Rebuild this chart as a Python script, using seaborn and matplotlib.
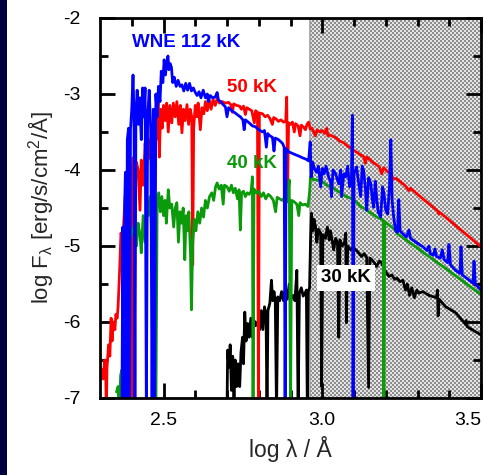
import numpy as np
import pandas as pd
import matplotlib
matplotlib.use("Agg")
import matplotlib.pyplot as plt
from matplotlib.patches import Rectangle
import seaborn as sns

# ---- model spectra: log wavelength [A] vs log flux [erg/s/cm^2/A] ----
red_x = [2.300, 2.305, 2.310, 2.315, 2.318, 2.320, 2.322, 2.327, 2.331, 2.335, 2.338, 2.342,
         2.347, 2.350, 2.354, 2.357, 2.362, 2.366, 2.370, 2.374, 2.378, 2.382, 2.386, 2.390,
         2.394, 2.398, 2.401, 2.404, 2.410, 2.415, 2.420, 2.426, 2.430, 2.436, 2.442, 2.448,
         2.452, 2.458, 2.462, 2.467, 2.472, 2.477, 2.483, 2.487, 2.491, 2.496, 2.500, 2.505,
         2.510, 2.515, 2.520, 2.526, 2.531, 2.537, 2.542, 2.548, 2.553, 2.558, 2.563, 2.568,
         2.574, 2.579, 2.584, 2.589, 2.592, 2.595, 2.600, 2.605, 2.609, 2.616, 2.621, 2.627,
         2.632, 2.638, 2.644, 2.650, 2.656, 2.663, 2.669, 2.676, 2.685, 2.695, 2.705, 2.712,
         2.717, 2.721, 2.730, 2.740, 2.745, 2.752, 2.758, 2.762, 2.770, 2.778, 2.786, 2.790,
         2.796, 2.799, 2.802, 2.812, 2.820, 2.828, 2.835, 2.843, 2.847, 2.855, 2.862, 2.870,
         2.878, 2.885, 2.888, 2.891, 2.894, 2.900, 2.906, 2.912, 2.916, 2.924, 2.930, 2.934,
         2.942, 2.947, 2.952, 2.957, 2.962, 2.968, 2.973, 2.978, 2.984, 2.992, 3.000, 3.008,
         3.014, 3.018, 3.026, 3.035, 3.045, 3.055, 3.067, 3.078, 3.090, 3.099, 3.110, 3.120,
         3.130, 3.136, 3.140, 3.150, 3.160, 3.171, 3.180, 3.187, 3.194, 3.205, 3.216, 3.225,
         3.232, 3.260, 3.273, 3.278, 3.320, 3.364, 3.367, 3.371, 3.420, 3.460, 3.500]
red_y = [-6.72, -6.62, -6.75, -6.50, -6.68, -7.20, -6.60, -6.30, -6.45, -5.95, -6.25, -6.00,
         -6.10, -5.90, -5.95, -5.80, -5.30, -4.83, -4.90, -4.75, -4.45, -4.20, -4.00, -4.30,
         -3.90, -4.20, -7.20, -3.84, -4.10, -3.90, -4.00, -4.53, -3.87, -4.20, -3.65, -3.90,
         -3.60, -3.85, -3.40, -3.70, -3.30, -3.60, -3.10, -3.83, -3.20, -3.45, -3.15, -3.35,
         -3.12, -3.50, -3.15, -3.38, -3.12, -3.30, -3.10, -3.40, -3.15, -3.51, -3.20, -3.35,
         -3.14, -3.40, -3.20, -3.30, -5.25, -3.45, -3.15, -3.30, -3.12, -3.47, -3.18, -3.26,
         -3.10, -3.22, -3.08, -3.20, -3.07, -3.15, -3.06, -3.12, -3.10, -3.12, -3.11, -3.14,
         -3.24, -3.13, -3.15, -3.16, -3.20, -3.16, -3.27, -3.18, -3.20, -3.22, -3.38, -3.22,
         -3.24, -7.20, -3.25, -3.26, -3.30, -3.28, -3.32, -3.40, -3.31, -3.33, -3.36, -3.34,
         -3.37, -3.36, -3.04, -4.22, -3.38, -3.40, -3.37, -3.50, -3.39, -3.42, -3.55, -3.41,
         -3.44, -3.47, -3.40, -3.37, -3.46, -3.45, -3.50, -3.55, -3.47, -3.50, -3.48, -3.52,
         -3.45, -3.55, -3.54, -3.56, -3.58, -3.62, -3.64, -3.68, -3.71, -3.74, -3.77, -3.80,
         -3.82, -3.91, -3.83, -3.86, -3.90, -3.93, -3.96, -4.05, -3.97, -4.02, -4.05, -4.12,
         -4.11, -4.20, -4.27, -4.24, -4.39, -4.54, -4.58, -4.56, -4.73, -4.87, -5.01]

blue_x = [2.369, 2.372, 2.375, 2.378, 2.380, 2.383, 2.386, 2.390, 2.393, 2.396, 2.400, 2.404,
          2.407, 2.410, 2.413, 2.417, 2.421, 2.425, 2.430, 2.434, 2.438, 2.442, 2.446, 2.450,
          2.455, 2.460, 2.464, 2.468, 2.472, 2.476, 2.480, 2.484, 2.489, 2.493, 2.498, 2.502,
          2.506, 2.510, 2.514, 2.517, 2.521, 2.525, 2.529, 2.534, 2.540, 2.546, 2.552, 2.558,
          2.564, 2.570, 2.576, 2.582, 2.588, 2.594, 2.600, 2.606, 2.612, 2.618, 2.625, 2.632,
          2.638, 2.641, 2.647, 2.655, 2.663, 2.669, 2.673, 2.680, 2.688, 2.695, 2.700, 2.705,
          2.715, 2.726, 2.735, 2.742, 2.750, 2.754, 2.758, 2.770, 2.780, 2.789, 2.800, 2.812,
          2.818, 2.824, 2.828, 2.835, 2.843, 2.848, 2.852, 2.862, 2.870, 2.875, 2.880, 2.883,
          2.886, 2.894, 2.905, 2.916, 2.928, 2.938, 2.950, 2.957, 2.962, 2.965, 2.970, 2.975,
          2.982, 2.988, 2.995, 3.000, 3.006, 3.012, 3.020, 3.026, 3.029, 3.034, 3.042, 3.052,
          3.058, 3.061, 3.068, 3.074, 3.080, 3.086, 3.092, 3.095, 3.097, 3.100, 3.108, 3.114,
          3.121, 3.126, 3.130, 3.136, 3.140, 3.146, 3.153, 3.158, 3.162, 3.167, 3.171, 3.176,
          3.184, 3.190, 3.194, 3.200, 3.206, 3.212, 3.216, 3.220, 3.225, 3.231, 3.237, 3.241,
          3.245, 3.254, 3.265, 3.273, 3.278, 3.295, 3.317, 3.330, 3.336, 3.340, 3.350, 3.355,
          3.360, 3.372, 3.378, 3.384, 3.395, 3.399, 3.404, 3.420, 3.434, 3.437, 3.441, 3.460,
          3.475, 3.478, 3.482, 3.500]
blue_y = [-7.20, -4.75, -7.20, -4.40, -4.03, -7.20, -3.60, -3.45, -7.20, -3.47, -3.20, -2.75,
          -3.25, -7.20, -3.30, -2.95, -3.40, -3.05, -3.60, -2.92, -3.30, -2.92, -7.20, -3.30,
          -2.95, -3.50, -7.20, -3.20, -7.20, -3.00, -3.30, -2.90, -3.10, -2.70, -2.85, -2.55,
          -2.75, -2.60, -2.50, -2.68, -2.60, -2.65, -2.85, -2.78, -2.90, -2.82, -2.90, -2.88,
          -2.96, -2.86, -2.95, -2.86, -2.96, -2.92, -2.98, -3.02, -2.97, -3.05, -2.95, -3.05,
          -3.00, -3.10, -3.02, -3.05, -3.04, -2.98, -3.08, -3.10, -3.14, -3.17, -3.30, -3.18,
          -3.22, -3.25, -3.28, -3.30, -3.34, -3.47, -3.34, -3.38, -3.42, -3.43, -3.47, -3.50,
          -3.48, -3.70, -3.52, -3.55, -3.57, -3.75, -3.58, -3.60, -3.63, -3.65, -3.70, -7.20,
          -3.72, -3.76, -3.78, -3.80, -3.82, -3.84, -3.86, -3.88, -3.63, -4.09, -3.90, -3.98,
          -4.03, -3.95, -4.22, -3.98, -4.05, -3.95, -4.09, -4.15, -4.35, -4.00, -4.05, -4.18,
          -4.00, -4.35, -4.05, -4.09, -3.95, -4.22, -4.10, -3.28, -7.20, -4.05, -3.96, -4.15,
          -4.35, -3.95, -4.00, -4.25, -4.53, -4.10, -4.18, -4.40, -4.49, -4.15, -4.35, -4.55,
          -4.62, -4.22, -4.30, -4.53, -4.58, -4.20, -3.60, -4.40, -4.62, -4.80, -4.82, -4.39,
          -4.80, -4.84, -4.88, -4.79, -4.90, -4.95, -5.01, -5.06, -5.00, -5.10, -5.12, -5.04,
          -5.14, -5.16, -5.05, -5.18, -5.22, -4.98, -5.25, -5.32, -5.36, -5.01, -5.38, -5.44,
          -5.49, -5.20, -5.50, -5.58]

green_x = [2.352, 2.357, 2.360, 2.365, 2.369, 2.372, 2.376, 2.385, 2.395, 2.405, 2.415, 2.420,
           2.426, 2.430, 2.436, 2.442, 2.448, 2.452, 2.458, 2.462, 2.466, 2.470, 2.476, 2.480,
           2.485, 2.490, 2.495, 2.500, 2.505, 2.509, 2.515, 2.520, 2.526, 2.532, 2.537, 2.542,
           2.547, 2.552, 2.557, 2.562, 2.567, 2.571, 2.576, 2.580, 2.585, 2.588, 2.592, 2.597,
           2.602, 2.608, 2.614, 2.620, 2.626, 2.632, 2.638, 2.645, 2.652, 2.658, 2.664, 2.669,
           2.675, 2.682, 2.688, 2.692, 2.700, 2.707, 2.714, 2.720, 2.726, 2.733, 2.738, 2.742,
           2.746, 2.752, 2.758, 2.764, 2.770, 2.776, 2.780, 2.782, 2.785, 2.792, 2.800, 2.808,
           2.815, 2.822, 2.830, 2.838, 2.846, 2.853, 2.858, 2.866, 2.874, 2.882, 2.890, 2.896,
           2.900, 2.904, 2.912, 2.920, 2.926, 2.930, 2.938, 2.947, 2.955, 2.960, 2.963, 2.970,
           2.980, 2.995, 3.005, 3.014, 3.025, 3.036, 3.046, 3.058, 3.067, 3.077, 3.088, 3.099,
           3.110, 3.121, 3.130, 3.140, 3.150, 3.162, 3.172, 3.184, 3.192, 3.194, 3.197, 3.203,
           3.215, 3.225, 3.237, 3.300, 3.400, 3.500]
green_y = [-6.92, -6.85, -7.20, -6.70, -6.63, -7.20, -6.00, -5.10, -4.90, -4.75, -5.00, -4.70,
           -4.85, -5.09, -4.60, -4.95, -4.40, -4.60, -4.35, -4.75, -4.45, -5.00, -7.20, -4.40,
           -4.30, -4.55, -4.35, -4.60, -4.40, -4.70, -4.26, -4.50, -4.45, -4.75, -4.50, -4.43,
           -4.95, -4.55, -4.70, -4.50, -5.18, -4.60, -4.80, -4.55, -5.10, -5.84, -4.95, -4.65,
           -4.80, -4.55, -4.70, -4.50, -4.62, -4.40, -4.50, -4.35, -4.30, -4.40, -4.22, -4.17,
           -4.25, -4.20, -4.45, -4.20, -4.22, -4.28, -4.20, -4.30, -4.24, -4.38, -4.26, -4.79,
           -4.30, -4.28, -4.35, -4.30, -4.32, -4.28, -4.09, -7.20, -4.25, -4.30, -4.28, -4.35,
           -4.30, -4.38, -4.32, -4.35, -4.40, -4.55, -4.36, -4.38, -4.40, -4.36, -4.42, -4.13,
           -7.20, -4.40, -4.42, -4.45, -4.60, -4.43, -4.46, -4.45, -4.48, -4.30, -4.09, -4.12,
           -4.13, -4.14, -4.17, -4.20, -4.22, -4.24, -4.27, -4.30, -4.33, -4.35, -4.37, -4.39,
           -4.43, -4.48, -4.50, -4.53, -4.56, -4.59, -4.62, -4.64, -4.66, -7.20, -4.68, -4.70,
           -4.74, -4.77, -4.84, -5.03, -5.33, -5.64]

black_x = [2.700, 2.702, 2.706, 2.710, 2.714, 2.718, 2.722, 2.726, 2.730, 2.735, 2.740, 2.744,
           2.749, 2.752, 2.756, 2.760, 2.765, 2.770, 2.775, 2.780, 2.785, 2.790, 2.796, 2.803,
           2.808, 2.813, 2.818, 2.823, 2.826, 2.829, 2.835, 2.840, 2.844, 2.848, 2.852, 2.856,
           2.860, 2.866, 2.872, 2.878, 2.884, 2.890, 2.896, 2.902, 2.908, 2.914, 2.920, 2.924,
           2.928, 2.934, 2.940, 2.946, 2.950, 2.953, 2.956, 2.960, 2.963, 2.966, 2.970, 2.974,
           2.979, 2.983, 2.988, 2.995, 2.998, 3.002, 3.010, 3.016, 3.022, 3.026, 3.032, 3.036,
           3.042, 3.048, 3.052, 3.056, 3.063, 3.070, 3.074, 3.076, 3.080, 3.089, 3.097, 3.108,
           3.116, 3.124, 3.132, 3.140, 3.146, 3.150, 3.156, 3.164, 3.171, 3.180, 3.187, 3.195,
           3.203, 3.210, 3.219, 3.228, 3.235, 3.245, 3.254, 3.262, 3.268, 3.275, 3.282, 3.290,
           3.298, 3.304, 3.317, 3.336, 3.360, 3.363, 3.365, 3.368, 3.389, 3.421, 3.451, 3.453,
           3.456, 3.500]
black_y = [-7.20, -6.37, -6.60, -6.30, -6.90, -6.45, -7.05, -6.50, -6.85, -6.55, -6.85, -6.40,
           -6.20, -6.55, -5.87, -6.25, -6.02, -6.20, -5.95, -6.20, -5.98, -6.05, -6.00, -6.10,
           -5.85, -6.10, -5.80, -5.90, -7.20, -5.85, -5.75, -5.45, -5.72, -5.60, -5.72, -7.20,
           -5.67, -5.72, -5.60, -5.72, -5.55, -5.70, -5.50, -5.70, -5.65, -5.72, -5.32, -7.20,
           -5.62, -5.55, -5.66, -5.62, -5.58, -7.20, -5.60, -5.55, -4.95, -4.57, -4.80, -4.65,
           -4.75, -4.95, -4.78, -4.83, -6.85, -4.85, -4.90, -4.75, -4.92, -4.80, -4.95, -5.05,
           -4.90, -4.95, -6.20, -4.92, -5.00, -4.95, -4.83, -6.01, -5.00, -5.05, -5.02, -5.06,
           -5.10, -5.14, -5.10, -5.15, -6.86, -5.16, -5.18, -5.22, -5.27, -5.20, -5.22, -5.30,
           -5.36, -5.40, -5.38, -5.44, -5.42, -5.47, -5.45, -5.58, -5.50, -5.65, -5.55, -5.68,
           -5.58, -5.62, -5.60, -5.65, -5.68, -5.58, -5.92, -5.70, -5.80, -5.88, -6.03, -5.98,
           -6.06, -6.17]

# curve labels
series_names = ["WNE 112 kK", "50 kK", "40 kK", "30 kK"]

# axis ticks
xticks_major = [2.5, 3.0, 3.5]
xtick_labels = ["2.5", "3.0", "3.5"]
yticks_major = [-7, -6, -5, -4, -3, -2]
ytick_labels = ["-7", "-6", "-5", "-4", "-3", "-2"]

# shaded wavelength range
shade_start = 2.96

RED, BLUE, GREEN, BLACK = "#ff0000", "#0000ff", "#0a9a0a", "#000000"

sns.set_theme(style="ticks")
plt.rcParams["font.family"] = ["Liberation Sans", "DejaVu Sans"]
plt.rcParams["mathtext.fontset"] = "custom"
plt.rcParams["mathtext.rm"] = "Liberation Sans"
plt.rcParams["mathtext.it"] = "Liberation Sans:italic"

fig = plt.figure(figsize=(4.84, 4.75), dpi=100)
fig.patch.set_facecolor("white")
fig.patches.append(Rectangle((0, 0), 7 / 484, 1, transform=fig.transFigure,
                             facecolor="#00003f", edgecolor="none", zorder=-10))
ax = fig.add_axes([100 / 484, 1 - 398 / 475, 381 / 484, 380 / 475])

xmin, xmax, ymin, ymax = 2.3, 3.5, -7.0, -2.0

# checkered band over the long-wavelength range
ncx, ncy = 86, 190
cells = (np.add.outer(np.arange(ncy), np.arange(ncx)) % 2).astype(float)
ax.imshow(cells, extent=[shade_start, xmax, ymin, ymax], aspect="auto",
          cmap=matplotlib.colors.ListedColormap(["#8e8e8e", "#e4e4e4"]),
          interpolation="nearest", zorder=0)
ax.axvline(shade_start, color="#a0a0a0", lw=1.2, zorder=1)

lw = 2.0
for xs, ys, col, z in [(black_x, black_y, BLACK, 2), (red_x, red_y, RED, 3),
                       (green_x, green_y, GREEN, 4), (blue_x, blue_y, BLUE, 5)]:
    df = pd.DataFrame({"logw": xs, "logf": ys})
    sns.lineplot(data=df, x="logw", y="logf", sort=False, estimator=None,
                 color=col, linewidth=lw, ax=ax, zorder=z)

ax.set_xlim(xmin, xmax)
ax.set_ylim(ymin, ymax)

txt_kw = dict(fontsize=13.5, fontweight="bold", va="center", ha="left", zorder=7)
ax.text(2.40, -2.32, series_names[0], color=BLUE, **txt_kw)
ax.text(2.70, -2.91, series_names[1], color=RED, **txt_kw)
ax.text(2.70, -3.91, series_names[2], color=GREEN, **txt_kw)
ax.text(3.074, -5.42, series_names[3], color=BLACK, ha="center", va="center",
        fontsize=13.5, fontweight="bold", zorder=8,
        bbox=dict(facecolor="white", edgecolor="none", pad=3))

ax.set_xticks(xticks_major)
ax.set_xticklabels(xtick_labels)
ax.set_xticks(np.arange(2.4, 3.51, 0.1), minor=True)
ax.set_yticks(yticks_major)
ax.set_yticklabels(ytick_labels)
ax.set_yticks(np.arange(-6.5, -2.0, 1.0), minor=True)
ax.tick_params(which="both", direction="in", top=True, right=True, width=2.0,
               colors="black", labelsize=14)
ax.tick_params(which="major", length=11)
ax.tick_params(which="minor", length=6)
ax.tick_params(axis="x", which="major", pad=10)
ax.tick_params(axis="y", which="major", pad=14)
ax.get_xticklabels()[-1].set_horizontalalignment("right")

for s in ax.spines.values():
    s.set_linewidth(2.0)
    s.set_color("black")
    s.set_zorder(10)

ax.set_xlabel("log λ / Å", fontsize=16.5, labelpad=5)
ax.set_ylabel(r"log F$_\mathregular{λ}$ [erg/s/cm$^\mathregular{2}$/Å]", fontsize=16, labelpad=5)

fig.savefig("out.png", dpi=100)
